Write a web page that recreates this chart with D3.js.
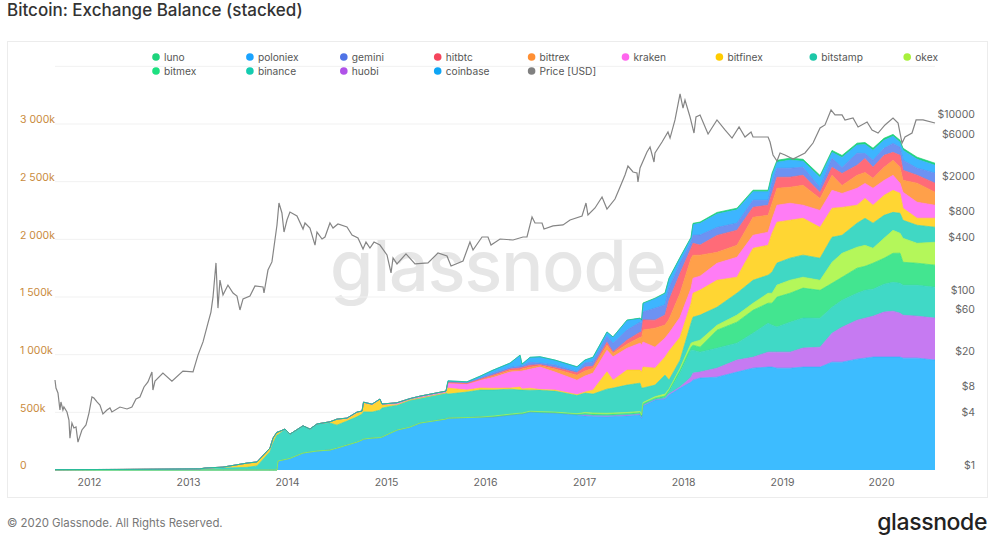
<!DOCTYPE html>
<html>
<head>
  <meta charset="utf-8">
  <title>Bitcoin: Exchange Balance (stacked)</title>
  <script src="https://d3js.org/d3.v7.min.js"></script>
  <style>
    body { margin: 0; background: #fff; }
    text { font-family: Inter, "Noto Sans", sans-serif; }
  </style>
</head>
<body>
<svg width="995" height="541"></svg>
<script>
  // values: balances in thousands of BTC, dates as decimal years
  const stackDates = [
    2011.657,2012.313,2013.121,2013.172,2013.354,2013.596,2013.697,2013.828,2013.859,2013.899,
    2013.909,2013.980,2014.030,2014.162,2014.232,2014.303,2014.434,2014.505,2014.606,2014.707,
    2014.758,2014.773,2014.859,2014.939,2014.960,2015.111,2015.242,2015.343,2015.606,2015.626,
    2015.818,2015.949,2016.081,2016.253,2016.354,2016.374,2016.455,2016.556,2016.707,2016.929,
    2017.010,2017.091,2017.232,2017.293,2017.434,2017.566,2017.581,2017.596,2017.717,2017.818,
    2017.859,2017.970,2018.081,2018.101,2018.172,2018.343,2018.545,2018.707,2018.859,2018.899,
    2018.949,2019.081,2019.212,2019.384,2019.505,2019.606,2019.758,2019.838,2019.919,2020.030,
    2020.121,2020.192,2020.222,2020.364,2020.545];

  const coinbase = [
    0,0,0,0,0,0,0,0,0,0,
    78,91,101,147,156,165,173,190,216,242,
    260,268,277,281,286,346,372,407,442,450,
    455,459,459,476,485,485,502,498,494,476,
    468,463,461,463,468,476,446,554,606,615,
    650,710,762,779,797,805,849,883,892,892,
    883,883,892,892,935,935,961,970,979,979,
    979,979,970,970,953];
  const huobi = [
    0,0,0,0,0,0,0,0,0,0,
    0,0,0,0,0,0,0,0,0,0,
    0,0,0,0,0,0,0,0,0,0,
    0,0,0,0,0,0,0,0,0,4,
    9,9,9,9,9,9,9,9,4,4,
    9,9,43,61,52,78,104,95,130,130,
    139,139,165,173,251,303,338,346,355,390,
    398,381,372,364,364];
  const binance = [
    0,0,0,0,0,0,0,0,0,0,
    0,0,0,0,0,0,0,0,0,0,
    0,0,0,0,0,0,0,0,0,0,
    0,0,0,0,0,0,0,0,0,0,
    4,4,4,4,4,4,4,4,4,9,
    17,121,234,199,173,173,147,208,251,234,
    217,260,260,251,225,234,234,242,234,242,
    251,260,260,268,268];
  const bitmex = [
    0,0,0,0,0,0,0,0,0,0,
    0,0,0,0,0,0,0,0,0,0,
    0,0,0,0,0,0,0,0,0,0,
    0,0,4,4,4,4,4,4,4,4,
    9,9,9,9,9,9,9,9,9,13,
    17,26,26,43,43,156,182,199,173,190,
    260,251,260,242,208,199,217,208,225,225,
    251,260,199,191,191];
  const okex = [
    0,0,0,0,0,0,0,0,0,0,
    0,0,0,0,0,0,0,0,0,0,
    0,0,0,0,0,0,0,0,0,0,
    0,0,4,4,4,4,4,4,4,4,
    9,9,9,9,9,9,9,9,13,17,
    9,17,35,26,61,43,61,61,87,87,
    104,113,95,87,182,208,182,182,130,173,
    199,173,208,173,199];
  const bitstamp = [
    3,5,8,14,17,23,35,158,234,303,
    225,264,210,236,199,234,234,199,208,219,
    225,236,225,238,251,216,234,216,225,208,
    221,234,226,217,200,200,182,187,182,161,
    168,164,209,216,237,246,233,126,100,165,
    78,69,173,217,217,156,190,199,156,182,
    191,191,191,191,217,156,208,234,217,199,
    156,173,156,156,130];
  const bitfinex = [
    0,0,2,3,8,37,35,32,43,26,
    26,0,0,0,0,0,11,52,17,32,
    17,75,60,87,26,4,0,0,0,52,
    17,17,15,9,26,9,17,4,9,4,
    9,35,150,69,130,113,139,182,147,156,
    251,199,173,208,217,234,139,277,260,338,
    355,329,320,268,251,242,156,173,156,173,
    191,173,104,61,78];
  const kraken = [
    0,0,0,0,0,0,0,0,0,0,
    0,0,0,0,0,0,0,0,9,9,
    9,9,9,9,9,17,13,17,17,43,
    52,69,95,139,139,156,165,195,156,126,
    139,147,188,202,190,234,234,217,182,165,
    156,173,130,130,121,147,173,113,113,121,
    147,147,113,147,156,121,147,130,147,130,
    130,87,139,139,113];
  const bittrex = [
    0,0,0,0,0,0,0,0,0,0,
    0,0,0,0,0,0,0,0,0,0,
    0,0,0,0,0,0,0,0,0,4,
    4,4,11,13,9,17,17,13,26,43,
    43,43,43,32,35,52,61,104,165,113,
    121,208,260,199,182,95,104,156,147,139,
    147,139,173,104,130,69,113,95,87,113,
    130,139,104,165,113];
  const hitbtc = [
    0,0,0,0,0,0,0,0,0,0,
    0,0,0,0,0,0,0,0,0,0,
    0,0,0,0,0,0,0,0,0,4,
    4,4,9,13,17,13,17,9,13,22,
    35,17,26,11,35,43,52,87,69,87,
    165,173,87,104,87,147,130,87,87,87,
    95,87,87,52,69,104,87,121,95,104,
    69,104,87,69,78];
  const gemini = [
    0,0,0,0,0,0,0,0,0,0,
    0,0,0,0,0,0,0,0,0,0,
    0,0,0,0,0,0,0,0,0,4,
    4,9,17,13,17,13,26,13,22,9,
    35,37,52,75,87,87,69,69,104,87,
    104,87,52,69,87,69,61,61,43,87,
    78,78,69,43,78,52,104,43,61,61,
    78,69,87,61,87];
  const poloniex = [
    0,0,0,0,0,0,0,0,0,0,
    0,0,0,0,0,0,0,0,0,0,
    0,0,0,0,0,0,0,0,0,8,
    8,17,26,39,95,17,43,55,43,42,
    26,41,37,55,85,33,33,74,83,100,
    83,48,39,95,102,117,117,74,74,70,
    52,70,52,87,52,87,70,78,87,70,
    61,44,87,78,69];
  const luno = [
    0,0,0,0,0,0,0,0,0,0,
    0,0,0,0,0,0,0,0,0,0,
    0,0,0,0,0,0,0,0,0,0,
    0,0,0,0,0,0,0,0,0,0,
    0,0,0,0,2,2,2,4,4,4,
    4,4,4,9,11,13,13,13,13,17,
    17,17,17,17,17,17,17,17,17,17,
    17,17,17,17,17];

  const priceDates = [
    2011.657,2011.667,2011.687,2011.707,2011.717,2011.737,2011.747,2011.778,2011.798,2011.808,
    2011.828,2011.848,2011.869,2011.889,2011.929,2011.970,2012.000,2012.030,2012.050,2012.081,
    2012.111,2012.141,2012.182,2012.212,2012.232,2012.313,2012.384,2012.434,2012.475,2012.515,
    2012.556,2012.596,2012.636,2012.646,2012.667,2012.747,2012.838,2012.949,2013.051,2013.101,
    2013.152,2013.202,2013.232,2013.253,2013.283,2013.303,2013.323,2013.354,2013.404,2013.455,
    2013.495,2013.525,2013.556,2013.626,2013.677,2013.758,2013.768,2013.808,2013.848,2013.899,
    2013.919,2013.949,2013.970,2014.000,2014.030,2014.101,2014.162,2014.182,2014.232,2014.283,
    2014.303,2014.354,2014.384,2014.434,2014.465,2014.515,2014.606,2014.657,2014.717,2014.768,
    2014.798,2014.838,2014.879,2014.939,2015.010,2015.051,2015.071,2015.111,2015.202,2015.293,
    2015.424,2015.525,2015.616,2015.657,2015.778,2015.848,2015.879,2015.970,2016.030,2016.061,
    2016.152,2016.283,2016.384,2016.424,2016.475,2016.505,2016.576,2016.596,2016.687,2016.788,
    2016.859,2016.980,2017.020,2017.040,2017.111,2017.182,2017.232,2017.313,2017.364,2017.414,
    2017.444,2017.495,2017.535,2017.545,2017.566,2017.636,2017.667,2017.707,2017.717,2017.788,
    2017.848,2017.869,2017.919,2017.970,2018.000,2018.020,2018.071,2018.111,2018.131,2018.172,
    2018.253,2018.343,2018.424,2018.495,2018.566,2018.626,2018.687,2018.707,2018.859,2018.879,
    2018.909,2018.949,2018.980,2019.030,2019.111,2019.232,2019.313,2019.384,2019.434,2019.495,
    2019.535,2019.606,2019.636,2019.717,2019.768,2019.859,2019.909,2019.970,2020.040,2020.121,
    2020.172,2020.212,2020.242,2020.313,2020.354,2020.424,2020.545];
  const priceUsd = [
    10.6,8.6,7.54,4.83,5.96,4.83,5.22,4.58,3.71,2.31,
    3.43,3.01,3.09,2.08,2.86,3.26,4.46,6.79,6.61,5.96,
    5.51,4.35,4.83,5.09,4.58,5.22,4.96,5.22,6.44,6.79,
    8.83,10.1,13.1,8.16,10.3,12.7,10.3,13.4,13.1,20.4,
    28.8,47.3,63,94,229,70,146,99,128,104,
    96,66.6,89,96,125,122,104,190,235,620,
    1103,849,515,706,871,785,557,653,572,366,
    515,429,452,653,572,636,588,476,440,330,
    396,339,396,366,282,176,261,223,290,223,
    229,297,275,211,241,396,321,452,452,366,
    429,418,452,452,764,653,653,557,604,620,
    706,785,1103,805,968,1291,942,1225,1679,2300,
    2912,2489,2426,1914,2765,4207,4797,3236,4100,5470,
    7112,6067,9750,19280,13340,16480,10540,6918,10540,11120,
    6745,9750,7499,6067,8110,6237,7112,6237,6237,5470,
    3890,3321,4100,3890,3500,4100,5321,7889,8551,12680,
    11120,11120,9750,10260,8110,9247,7499,6918,8551,10260,
    8995,5321,6237,6918,9750,9750,8995];

  // stacking order, bottom to top
  const stackKeys = ["coinbase","huobi","binance","bitmex","okex","bitstamp","bitfinex","kraken","bittrex","hitbtc","gemini","poloniex","luno"];
  const stackValues = [coinbase,huobi,binance,bitmex,okex,bitstamp,bitfinex,kraken,bittrex,hitbtc,gemini,poloniex,luno];
  const fillColors = ["#3dbcff","#c67af2","#40d9c6","#43e590","#b4f75a","#40d8c4","#ffd633","#ff7cf5","#ffa04a","#ff6b78","#6d92f2","#3db5ff","#1fd67f"];
  const lineColors = ["#30b2fa","#bd6cee","#30d2bc","#30de84","#aaf24a","#30d0ba","#fdd020","#fd70f2","#fd9840","#fb5f6c","#5f85ee","#30acfa","#14cc70"];

  const legendNames = ["luno","poloniex","gemini","hitbtc","bittrex","kraken","bitfinex","bitstamp","okex","bitmex","binance","huobi","coinbase","Price [USD]"];
  const legendColors = ["#1ed47c","#1aa3ff","#4f73e6","#f5455c","#ff8f33","#ff66ee","#ffcc00","#1dc7a8","#a8f03c","#1de080","#14ccb0","#b052e8","#0ea5f5","#808080"];

  const yearTicks = [2012,2013,2014,2015,2016,2017,2018,2019,2020];
  const balanceTicks = [0,500,1000,1500,2000,2500,3000];
  const balanceLabels = ["0","500k","1 000k","1 500k","2 000k","2 500k","3 000k"];
  const gridTicks = [500,1000,1500,2000,2500,3000,3500];
  const priceTicks = [1,4,8,20,60,100,400,800,2000,6000,10000];

  const svg = d3.select("svg");

  const x = d3.scaleLinear().domain([2011.657, 2020.545]).range([55, 935]);
  const y = d3.scaleLinear().domain([0, 3000]).range([470, 124]);
  const yPrice = d3.scaleLog().domain([1, 10000]).range([470, 119]);

  // title, card, footer
  svg.append("text").attr("x", 7).attr("y", 15.5).attr("font-size", 17).attr("font-weight", 500)
    .attr("fill", "#333").text("Bitcoin: Exchange Balance (stacked)");
  svg.append("rect").attr("x", 7.5).attr("y", 41.5).attr("width", 980).attr("height", 456)
    .attr("fill", "none").attr("stroke", "#ececec");
  svg.append("text").attr("x", 7).attr("y", 527).attr("font-size", 11.4).attr("fill", "#777")
    .text("© 2020 Glassnode. All Rights Reserved.");
  svg.append("text").attr("x", 987).attr("y", 530).attr("text-anchor", "end").attr("font-size", 23)
    .attr("font-weight", 500).attr("letter-spacing", "-0.4px").attr("fill", "#222").text("glassnode");

  // watermark
  svg.append("text").attr("x", 498).attr("y", 291).attr("text-anchor", "middle").attr("font-size", 70)
    .attr("font-weight", 500).attr("letter-spacing", "-1px").attr("fill", "#e6e6e6").text("glassnode");

  // grid
  svg.selectAll(".grid").data(gridTicks).enter().append("line")
    .attr("class", "grid")
    .attr("x1", 55).attr("x2", 935)
    .attr("y1", d => y(d)).attr("y2", d => y(d))
    .style("stroke", "#f1f1f1");

  // stacked areas
  const rows = stackDates.map((date, i) => {
    const row = { date: date };
    stackKeys.forEach((k, j) => { row[k] = stackValues[j][i]; });
    return row;
  });
  const layers = d3.stack().keys(stackKeys)(rows);
  const area = d3.area().x(d => x(d.data.date)).y0(d => y(d[0])).y1(d => y(d[1]));
  const topLine = d3.line().x(d => x(d.data.date)).y(d => y(d[1]));

  svg.selectAll(".layer").data(layers).enter().append("path")
    .attr("class", "layer")
    .attr("d", area)
    .style("fill", (d, i) => fillColors[i]);
  svg.selectAll(".layer-top").data(layers).enter().append("path")
    .attr("class", "layer-top")
    .attr("d", topLine)
    .style("fill", "none")
    .style("stroke", (d, i) => lineColors[i])
    .style("stroke-width", 0.7);

  // price
  const priceLine = d3.line().x(d => x(d[0])).y(d => yPrice(d[1]));
  svg.append("path")
    .attr("d", priceLine(priceDates.map((d, i) => [d, priceUsd[i]])))
    .style("fill", "none")
    .style("stroke", "#858585")
    .style("stroke-width", 1.2);

  // axes
  const xAxis = svg.append("g").attr("transform", "translate(0,470)")
    .call(d3.axisBottom(x).tickValues(yearTicks).tickFormat(d3.format("d")).tickSize(0).tickPadding(9));
  const leftAxis = svg.append("g").attr("transform", "translate(20,0)")
    .call(d3.axisRight(y).tickValues(balanceTicks).tickFormat((d, i) => balanceLabels[i]).tickSize(0).tickPadding(0));
  const rightAxis = svg.append("g").attr("transform", "translate(975,0)")
    .call(d3.axisLeft(yPrice).tickValues(priceTicks).tickFormat(d => "$" + d).tickSize(0).tickPadding(0));
  [xAxis, leftAxis, rightAxis].forEach(g => {
    g.select(".domain").remove();
    g.selectAll("text").attr("font-family", null).attr("font-size", 10.5);
  });
  xAxis.selectAll("text").attr("fill", "#666");
  leftAxis.selectAll("text").attr("fill", "#c98a3c").attr("dy", "-0.12em");
  rightAxis.selectAll("text").attr("fill", "#666").attr("dy", "-0.12em");

  // legend
  const legend = svg.selectAll(".legend").data(legendNames).enter().append("g")
    .attr("class", "legend")
    .attr("transform", (d, i) => `translate(${156 + (i % 9) * 93.9},${57 + Math.floor(i / 9) * 14})`);
  legend.append("circle").attr("r", 3.8).style("fill", (d, i) => legendColors[i]);
  legend.append("text").attr("x", 8).attr("dy", "0.35em").attr("font-size", 10.2).attr("fill", "#555").text(d => d);
</script>
</body>
</html>
